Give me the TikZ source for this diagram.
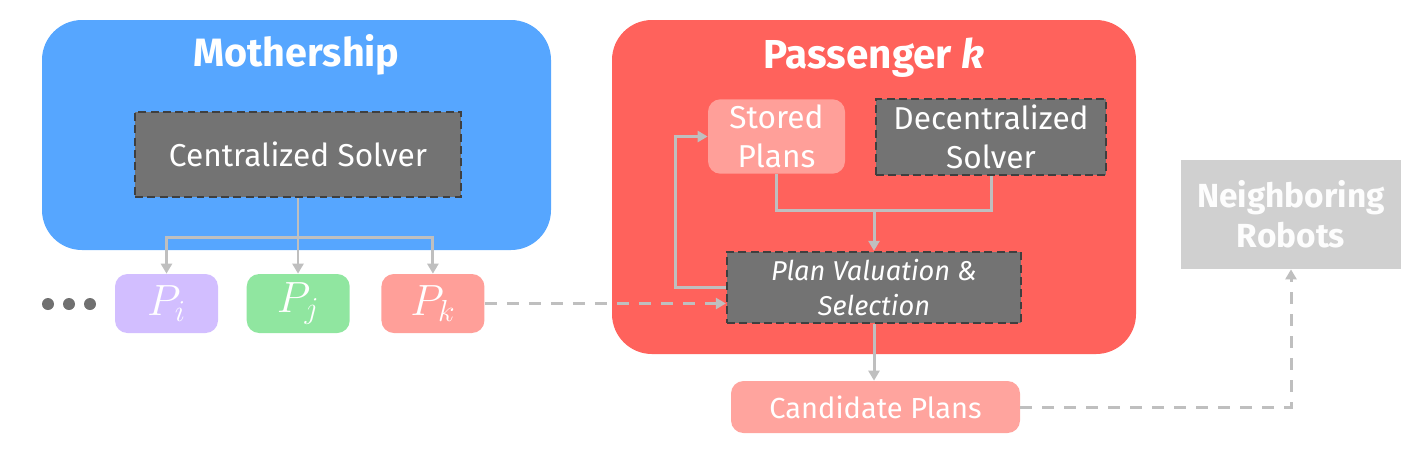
\documentclass[tikz,border=0pt]{standalone}
\usepackage{fontspec}
\setmainfont{Fira Sans}
\usetikzlibrary{arrows.meta,calc,positioning}

\definecolor{mothercol}{HTML}{56A6FF}
\definecolor{passcol}{HTML}{FF625C}
\definecolor{solvercol}{HTML}{737373}
\definecolor{solverline}{HTML}{3F3F3F}
\definecolor{plancol}{HTML}{FF9F99}
\definecolor{picol}{HTML}{D2BEFF}
\definecolor{pjcol}{HTML}{90E6A0}
\definecolor{robotcol}{HTML}{D0D0D0}
\definecolor{linkcol}{HTML}{BFBFBF}
\definecolor{dotcol}{HTML}{707070}

\begin{document}
\begin{tikzpicture}[
    agent/.style={rounded corners=0.8cm, minimum width=#1},
    solver/.style={fill=solvercol, draw=solverline, line width=1.3pt,
      dash pattern=on 4.5pt off 2.5pt, text=white, align=center},
    planbox/.style={fill=plancol, rounded corners=0.25cm, text=white, align=center},
    passbox/.style={planbox, minimum width=2.06cm, minimum height=1.18cm, font=\fontsize{23}{26}\selectfont},
    link/.style={draw=linkcol, line width=1.7pt},
    linkarrow/.style={link, -{Triangle[width=0.22cm,length=0.2cm]}},
    linkdash/.style={linkarrow, dash pattern=on 0.24cm off 0.2cm},
    bigtext/.style={font=\fontsize{18}{22}\selectfont},
  ]
  \useasboundingbox (0,0) rectangle (28.52,-9.02);

  % mothership
  \node [agent=10.18cm, fill=mothercol, minimum height=4.6cm] (mothership) at (5.93,-2.70) {};
  \node [text=white, font=\fontsize{22.5}{26}\selectfont\bfseries] (mothership_title) at (5.93,-1.10) {Mothership};
  \node [solver, bigtext, minimum width=6.52cm, minimum height=1.70cm] (central_solver) at (5.96,-3.09) {Centralized Solver};

  % plans sent to passengers
  \node [passbox, fill=picol] (p_i) at (3.33,-6.07) {$P_i$};
  \node [passbox, fill=pjcol, right=0.56cm of p_i] (p_j) {$P_j$};
  \node [passbox, right=0.62cm of p_j] (p_k) {$P_k$};
  \foreach \dx [count=\n] in {0.96,1.38,1.80}
    \fill [dotcol] (\dx,-6.08) circle (0.12cm) coordinate (dot\n);

  % passenger k
  \node [agent=10.48cm, fill=passcol, minimum height=6.68cm] (passenger) at (17.48,-3.74) {};
  \node [text=white, font=\fontsize{23}{27}\selectfont\bfseries] (passenger_title) at (17.48,-1.16) {Passenger \textit{k}};
  \node [planbox, bigtext, minimum width=2.74cm, minimum height=1.42cm] (stored) at (15.53,-2.73) {Stored\\Plans};
  \node [solver, bigtext, minimum width=4.60cm, minimum height=1.44cm] (dec_solver) at (19.82,-2.74) {Decentralized\\Solver};
  \node [solver, font=\fontsize{15.5}{19.5}\selectfont\itshape, minimum width=5.88cm, minimum height=1.42cm] (plan_sel) at (17.48,-5.75) {Plan Valuation \&\\Selection};

  % outputs
  \node [planbox, fill=plancol!95!white, font=\fontsize{16.5}{20}\selectfont, minimum width=5.78cm, minimum height=1.04cm] (candidate) at (17.51,-8.14) {Candidate Plans};
  \node [fill=robotcol, text=white!95!robotcol, align=center, font=\fontsize{19}{23}\selectfont\bfseries, minimum width=4.40cm, minimum height=2.18cm] (neighbors) at (25.82,-4.29) {Neighboring\\Robots};

  % centralized solver -> plans
  \draw [link] (central_solver.south) -- ++(0,-0.78) coordinate (cs_split);
  \draw [linkarrow] (cs_split) -| (p_i.north);
  \draw [linkarrow] (cs_split) -| (p_k.north);
  \draw [linkarrow] (central_solver.south) -- (central_solver.south |- p_j.north);

  % passenger internals
  \coordinate (merge) at ($(plan_sel.north)+(0,0.8)$);
  \draw [link] (stored.south) |- (merge) -| (dec_solver.south);
  \draw [linkarrow] (merge) -- (plan_sel.north);
  \draw [linkarrow] (plan_sel.west) -- ++(-1.0,0) |- (stored.west);
  \draw [linkdash] (p_k.east) -- (p_k.east -| plan_sel.west);
  \draw [linkarrow] (plan_sel.south) -- (candidate.north -| plan_sel.south);
  \draw [linkdash] (candidate.east) -| (neighbors.south);
\end{tikzpicture}
\end{document}
